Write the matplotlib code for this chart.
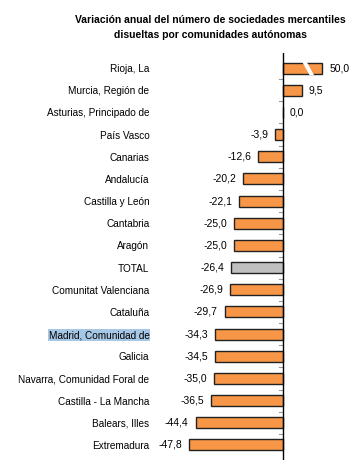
import matplotlib.pyplot as plt
from matplotlib.patches import Polygon

plt.rcParams['font.family'] = ['Liberation Sans', 'DejaVu Sans']

regiones = ["Rioja, La", "Murcia, Región de", "Asturias, Principado de", "País Vasco",
            "Canarias", "Andalucía", "Castilla y León", "Cantabria", "Aragón", "TOTAL",
            "Comunitat Valenciana", "Cataluña", "Madrid, Comunidad de", "Galicia",
            "Navarra, Comunidad Foral de", "Castilla - La Mancha", "Balears, Illes", "Extremadura"]
valores = [50.0, 9.5, 0.0, -3.9, -12.6, -20.2, -22.1, -25.0, -25.0, -26.4,
           -26.9, -29.7, -34.3, -34.5, -35.0, -36.5, -44.4, -47.8]
corte = 20  # la barra de La Rioja se corta aqui

naranja = '#F79646'
gris = '#C0C0C0'

fig = plt.figure(figsize=(3.63, 4.66), dpi=100)
ax = fig.add_axes([155/363, 1 - 460/466, 190/363, 407/466])

y = list(range(len(regiones)))
anchos = [min(v, corte) for v in valores]
colores = [gris if r == "TOTAL" else naranja for r in regiones]
ax.barh(y, anchos, height=0.5, color=colores, edgecolor='#222222', linewidth=1.0, zorder=2)

# marca de corte en la barra de Rioja
i = regiones.index("Rioja, La")
xc = corte * 0.5
band = Polygon([(xc - 0.5, i - 0.32), (xc + 1.8, i - 0.32), (xc + 5.8, i + 0.32), (xc + 3.5, i + 0.32)],
               closed=True, facecolor='white', edgecolor='none', zorder=3)
ax.add_patch(band)

for yi, v, w in zip(y, valores, anchos):
    txt = ("%.1f" % v).replace('.', ',')
    if v < 0:
        ax.annotate(txt, (w, yi), xytext=(-5, 0), textcoords='offset points',
                    ha='right', va='center', fontsize=7.5)
    else:
        ax.annotate(txt, (w, yi), xytext=(5, 0), textcoords='offset points',
                    ha='left', va='center', fontsize=7.5)

ax.set_xlim(-65, 31.5)
ax.set_ylim(len(regiones) - 0.32, -0.68)
ax.axvline(0, color='black', linewidth=1.0, zorder=4)

for s in ax.spines.values():
    s.set_visible(False)
ax.set_xticks([])
ax.set_yticks(y)
ax.set_yticklabels(regiones, fontsize=7.2)
ax.tick_params(axis='y', length=0, pad=4)
for lab in ax.get_yticklabels():
    if lab.get_text() == "Madrid, Comunidad de":
        lab.set_bbox(dict(facecolor='#A6C8E6', edgecolor='none', pad=0.5))

# marcas pequeñas entre categorias
for k in range(len(regiones) - 1):
    ax.plot([-1.8, 0], [k + 0.5, k + 0.5], color='#999999', linewidth=0.8, zorder=1)

fig.text(210/363, 1 - 20/466, "Variación anual del número de sociedades mercantiles",
         ha='center', va='center', fontsize=7.5, fontweight='bold')
fig.text(210/363, 1 - 35/466, "disueltas por comunidades autónomas",
         ha='center', va='center', fontsize=7.5, fontweight='bold')

plt.savefig('out.png', dpi=100)
